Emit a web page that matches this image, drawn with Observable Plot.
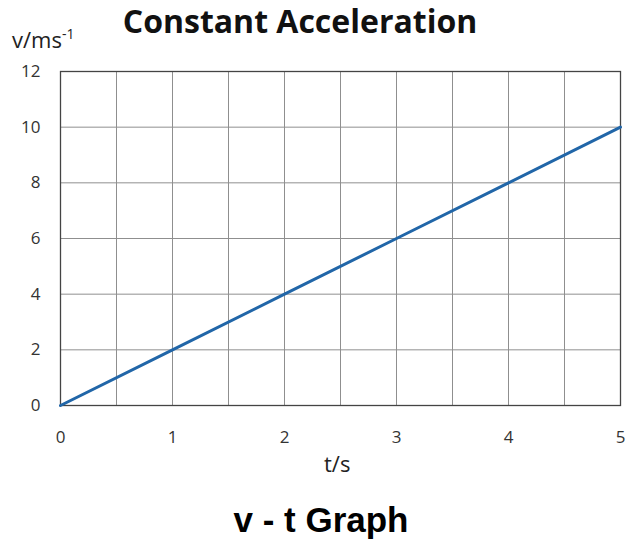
<!DOCTYPE html>
<html>
<head>
<meta charset="utf-8">
<script src="https://cdn.jsdelivr.net/npm/d3@7"></script>
<script src="https://cdn.jsdelivr.net/npm/@observablehq/plot@0.6"></script>
<style>
  html, body { margin: 0; padding: 0; background: #fff; }
  #wrap { position: relative; width: 627px; height: 541px; overflow: hidden; }
  #chart { position: absolute; left: 0; top: 58px; }
  .t { position: absolute; white-space: nowrap; color: #111; }
  #title { left: 0; width: 600px; text-align: center; top: 3px; line-height: 36px; font: bold 32px/36px "Open Sans", Lato, sans-serif; letter-spacing: 0px; }
  #ylab { left: 12px; top: 24px; font: 22px "Open Sans", Lato, sans-serif; color: #222; }
  #ylab sup { font-size: 14px; vertical-align: 9px; }
  #xlab { left: 324px; top: 448px; font: 22px "Open Sans", Lato, sans-serif; color: #222; }
  #caption { left: 0; width: 642px; text-align: center; top: 500px; font: bold 35px "Liberation Sans", Arial, sans-serif; color: #000; }
</style>
</head>
<body>
<div id="wrap">
  <div class="t" id="title">Constant Acceleration</div>
  <div class="t" id="ylab">v/ms<sup>-1</sup></div>
  <div id="chart"></div>
  <div class="t" id="xlab">t/s</div>
  <div class="t" id="caption">v - t Graph</div>
</div>
<script>
// Data
const time = [0, 1, 2, 3, 4, 5];          // t / s
const velocity = [0, 2, 4, 6, 8, 10];     // v / m s^-1
const xTicks = [0, 1, 2, 3, 4, 5];
const yTicks = [0, 2, 4, 6, 8, 10, 12];
const xGrid = [0.5, 1, 1.5, 2, 2.5, 3, 3.5, 4, 4.5];
const yGrid = [2, 4, 6, 8, 10];

const points = time.map((t, i) => ({t, v: velocity[i]}));

const chart = Plot.plot({
  width: 627,
  height: 420,
  marginTop: 13,
  marginBottom: 73,
  marginLeft: 60,
  marginRight: 7,
  style: {fontFamily: "'Open Sans', Lato, sans-serif", fontSize: "17px", color: "#333", background: "#fff"},
  x: {domain: [0, 5], ticks: xTicks, tickSize: 0, tickPadding: 25, label: null, tickFormat: d => String(d)},
  y: {domain: [0, 12], ticks: yTicks, tickSize: 0, tickPadding: 20, label: null, tickFormat: d => String(d)},
  marks: [
    Plot.ruleX(xGrid, {stroke: "#8f8f8f", strokeWidth: 1, strokeOpacity: 1}),
    Plot.ruleY(yGrid, {stroke: "#8f8f8f", strokeWidth: 1, strokeOpacity: 1}),
    Plot.frame({stroke: "#444", strokeWidth: 1.3}),
    Plot.line(points, {x: "t", y: "v", stroke: "#2166a8", strokeWidth: 3})
  ]
});
document.getElementById("chart").appendChild(chart);
</script>
</body>
</html>
